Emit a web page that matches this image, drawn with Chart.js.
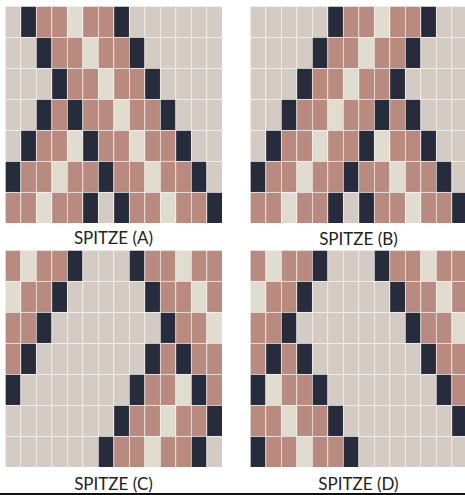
<!DOCTYPE html>
<html>
<head>
<meta charset="utf-8">
<script src="https://cdn.jsdelivr.net/npm/chart.js@4/dist/chart.umd.min.js"></script>
<style>
  html, body { margin: 0; padding: 0; background: #fff; }
  body { width: 465px; height: 495px; position: relative; overflow: hidden; }
  .panel { position: absolute; width: 217px; height: 217px; }
  .label {
    position: absolute; width: 217px; text-align: center;
    font-family: "Lato", sans-serif; font-size: 17px; color: #222;
    line-height: 17px;
  }
  .rule { position: absolute; left: 0; top: 493px; width: 465px; height: 2px; background: #111; }
</style>
</head>
<body>
<canvas id="chart-a" class="panel" width="217" height="217" style="left:5px;top:6px"></canvas>
<canvas id="chart-b" class="panel" width="217" height="217" style="left:250px;top:6px"></canvas>
<canvas id="chart-c" class="panel" width="217" height="217" style="left:5px;top:250px"></canvas>
<canvas id="chart-d" class="panel" width="217" height="217" style="left:250px;top:250px"></canvas>
<div class="label" style="left:5px;top:229px">SPITZE (A)</div>
<div class="label" style="left:250px;top:230px">SPITZE (B)</div>
<div class="label" style="left:5px;top:475px">SPITZE (C)</div>
<div class="label" style="left:250px;top:475px">SPITZE (D)</div>
<div class="rule"></div>
<script>
// tile codes: G = grey, P = rose, C = cream, D = dark; rows listed top to bottom
const columns = ["1", "2", "3", "4", "5", "6", "7", "8", "9", "10", "11", "12", "13", "14"];

const spitzeA = [
  "GDPPCPPDGGGGGG",
  "GGDPPCPPDGGGGG",
  "GGGDPPCPPDGGGG",
  "GGDPDPPCPPDGGG",
  "GDPPCDPPCPPDGG",
  "DPPCPPDPPCPPDG",
  "PPCPPDGDPPCPPD"
];

const spitzeB = [
  "GGGGGDPPCPPDGG",
  "GGGGDPPCPPDGGG",
  "GGGDPPCPPDGGGG",
  "GGDPPCPPDPDGGG",
  "GDPPCPPDCPPDGG",
  "DPPCPPDPPCPPDG",
  "PPCPPDGDPPCPPD"
];

const spitzeC = [
  "PCPPDGGGDPPCPP",
  "CPPDGGGGGDPPCP",
  "PPDGGGGGGGDPPC",
  "PDGGGGGGGDPDPP",
  "DGGGGGGGDPPCDP",
  "GGGGGGGDPPCPPD",
  "GGGGGGDPPCPPDG"
];

const spitzeD = [
  "PCPPDGGGDPPCPP",
  "CPPDGGGGGDPPCP",
  "PPDGGGGGGGDPPC",
  "PDPDGGGGGGGDPP",
  "DCPPDGGGGGGGDP",
  "PPCPPDGGGGGGGD",
  "DPPCPPDGGGGGGG"
];

const tileColors = {
  G: "#d4cbc4",
  P: "#b98b80",
  C: "#e0ddd0",
  D: "#262c3b"
};

function buildDatasets(rows) {
  // stacked bars start at the bottom, so walk the rows in reverse
  return [...rows].reverse().map((row, i) => ({
    label: "row " + (rows.length - i),
    data: columns.map(() => 1),
    backgroundColor: row.split("").map((code) => tileColors[code]),
    borderColor: "rgba(240, 234, 226, 0.45)",
    borderWidth: { top: 1, left: 1, right: 0, bottom: 0 },
    borderSkipped: false,
    barPercentage: 1,
    categoryPercentage: 1
  }));
}

function drawPanel(id, rows) {
  return new Chart(document.getElementById(id), {
    type: "bar",
    data: {
      labels: columns,
      datasets: buildDatasets(rows)
    },
    options: {
      responsive: false,
      animation: false,
      layout: { padding: 0 },
      plugins: {
        legend: { display: false },
        tooltip: { enabled: false }
      },
      scales: {
        x: { stacked: true, display: false },
        y: { stacked: true, display: false, min: 0, max: rows.length }
      }
    }
  });
}

drawPanel("chart-a", spitzeA);
drawPanel("chart-b", spitzeB);
drawPanel("chart-c", spitzeC);
drawPanel("chart-d", spitzeD);
</script>
</body>
</html>
